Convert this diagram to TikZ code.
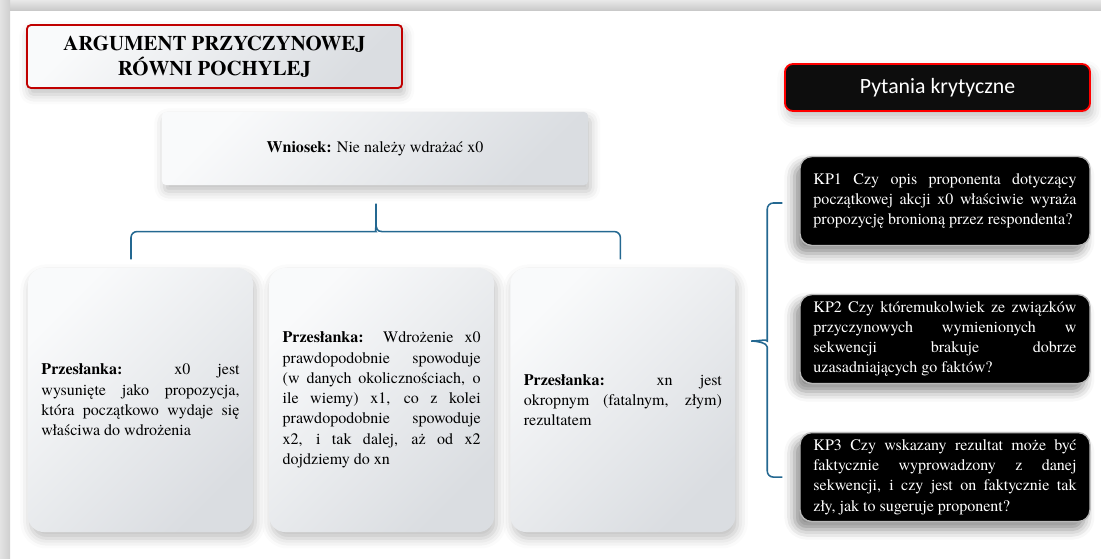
\documentclass[tikz,border=0pt]{standalone}
\usepackage{fontspec}
\setmainfont{TeX Gyre Termes}
\newfontfamily\calibfont{Carlito}
\usetikzlibrary{positioning,calc,shadows.blur}
\definecolor{brcblue}{RGB}{36,104,145}
\definecolor{boxlite}{RGB}{249,250,251}
\definecolor{boxdark}{RGB}{218,221,225}
\definecolor{titlered}{RGB}{192,0,0}

\begin{document}
\begin{tikzpicture}[x=0.025cm,y=-0.025cm,line width=0.8pt]
\tikzset{
  sh/.style={blur shadow={shadow xshift=0.6mm,shadow yshift=-1.6mm,shadow blur radius=2.5mm,shadow opacity=25}},
  lite/.style={top color=boxlite,bottom color=boxdark,shading angle=45,sh},
  txt/.style={font=\fontsize{11.4}{14.4}\selectfont},
  prem/.style={lite,txt,rounded corners=0.4cm,minimum width=5.625cm,minimum height=6.6cm,
    text width=4.95cm,inner xsep=0.3375cm,inner ysep=2pt,align=justify},
  kp/.style={txt,fill=black,draw=gray!55,line width=1pt,rounded corners=0.3cm,minimum width=7.25cm,
    minimum height=2.225cm,text width=6.575cm,inner xsep=0.3375cm,inner ysep=2pt,align=justify,text=white,
    blur shadow={shadow xshift=-1.4mm,shadow yshift=-2mm,shadow blur radius=2.5mm,shadow opacity=45}},
  brc/.style={draw=brcblue,line width=1.1pt}
}
\useasboundingbox (0,0) rectangle (1101,559);
% ---------- frame ----------
\shade[top color=gray!18,bottom color=gray!42] (0,0) rectangle (1101,10);
\shade[left color=gray!22,right color=gray!38] (0,0) rectangle (10,559);
% ---------- title and conclusion ----------
\node[lite,draw=titlered,line width=1.3pt,rounded corners=0.1cm,minimum width=9.375cm,minimum height=1.575cm,
  align=center,font=\bfseries\fontsize{14.8}{17.8}\selectfont] (title) at (214.5,56.5)
  {ARGUMENT PRZYCZYNOWEJ\\RÓWNI POCHYLEJ};
\node[lite,txt,rounded corners=0.1cm,minimum width=10.65cm,minimum height=1.825cm] (wn) at (375,148.5)
  {\textbf{Wniosek:} Nie należy wdrażać x0};
% ---------- premises ----------
\node[prem] (p1) at (140.5,400)
  {\textbf{Przesłanka:} x0 jest\linebreak wysunięte jako propozycja,\linebreak która początkowo wydaje się\linebreak właściwa do wdrożenia};
\node[prem,right=0.375cm of p1] (p2)
  {\textbf{Przesłanka:} Wdrożenie x0\linebreak prawdopodobnie spowoduje\linebreak (w danych okolicznościach, o\linebreak ile wiemy) x1, co z kolei\linebreak prawdopodobnie spowoduje\linebreak x2, i tak dalej, aż od x2\linebreak dojdziemy do xn};
\node[prem,right=0.375cm of p2] (p3)
  {\textbf{Przesłanka:} xn jest\linebreak okropnym (fatalnym, złym)\linebreak rezultatem};
% ---------- critical questions ----------
\node[fill=black!95,draw=red,line width=1.3pt,rounded corners=0.2cm,minimum width=7.625cm,minimum height=1.175cm,
  text=white,font=\calibfont\fontsize{15.5}{18}\selectfont,sh] (pk) at (937.5,87.5) {Pytania krytyczne};
\node[kp] (kp1) at (945,201)
  {KP1 Czy opis proponenta dotyczący\linebreak początkowej akcji x0 właściwie wyraża\linebreak propozycję bronioną przez respondenta?};
\node[kp,below=1.19cm of kp1] (kp2)
  {KP2 Czy któremukolwiek ze związków\linebreak przyczynowych wymienionych w\linebreak sekwencji brakuje dobrze\linebreak uzasadniających go faktów?};
\node[kp,below=1.19cm of kp2] (kp3)
  {KP3 Czy wskazany rezultat może być\linebreak faktycznie wyprowadzony z danej\linebreak sekwencji, i czy jest on faktycznie tak\linebreak zły, jak to sugeruje proponent?};
% ---------- braces ----------
\coordinate (tip) at ($(wn.south)+(1,18)$);
\draw[brc,rounded corners=0.15cm] ($(p1.north)+(-9.5,-8)$) |- ($(tip)+(-6,28)$) [sharp corners]
  .. controls ($(tip)+(-1,28)$) and ($(tip)+(0,25)$) .. ($(tip)+(0,19)$) -- (tip) -- ($(tip)+(0,19)$)
  .. controls ($(tip)+(0,25)$) and ($(tip)+(1,28)$) .. ($(tip)+(6,28)$) [rounded corners=0.15cm]
  -| ($(p3.north)+(-2.5,-8)$);
\coordinate (ltip) at ($(kp2.west)+(-48,2)$);
\draw[brc,rounded corners=0.15cm] ($(kp1.west)+(-17,2)$) -| ($(ltip)+(16,-6)$) [sharp corners]
  .. controls ($(ltip)+(16,-2)$) and ($(ltip)+(6,0)$) .. (ltip)
  .. controls ($(ltip)+(6,0)$) and ($(ltip)+(16,2)$) .. ($(ltip)+(16,6)$) [rounded corners=0.15cm]
  |- ($(kp3.west)+(-17,0)$);
\end{tikzpicture}
\end{document}
